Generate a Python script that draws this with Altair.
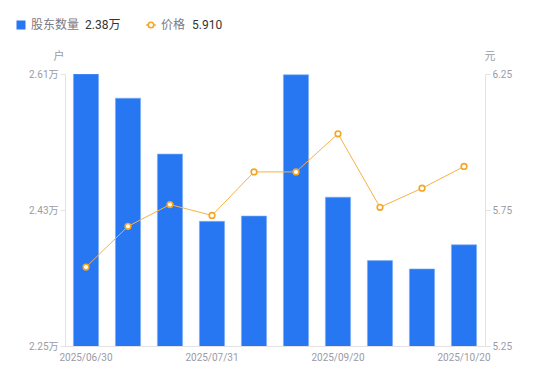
import altair as alt
import pandas as pd

dates = ["2025/06/30", "2025/07/10", "2025/07/20", "2025/07/31", "2025/08/20",
         "2025/08/31", "2025/09/20", "2025/09/30", "2025/10/10", "2025/10/20"]
holders = [2.610, 2.578, 2.504, 2.415, 2.422, 2.609, 2.447, 2.363, 2.352, 2.384]
prices = [5.54, 5.69, 5.77, 5.73, 5.89, 5.89, 6.03, 5.76, 5.83, 5.91]
shown_dates = ["2025/06/30", "2025/07/31", "2025/09/20", "2025/10/20"]

df = pd.DataFrame({"date": dates, "holders": holders, "price": prices})
one = pd.DataFrame({"k": [0]})

FONT = "Roboto, 'Noto Sans CJK SC', sans-serif"
BLUE = "#2777F3"
ORANGE = "#F6B343"
ORANGE_D = "#F5A524"
AXIS_C = "#e3e3e3"
LABEL_C = "#9b9ba6"

x = alt.X("date:N", sort=dates, title=None,
          scale=alt.Scale(paddingInner=0.4, paddingOuter=0.2),
          axis=alt.Axis(values=shown_dates, labelAngle=0, ticks=False, labelPadding=6,
                        domainColor=AXIS_C, labelColor=LABEL_C, labelFontSize=10,
                        labelFont=FONT, grid=False))

bars = alt.Chart(df).mark_bar(color=BLUE, stroke="#7fb0f7", strokeWidth=0.6, clip=True).encode(
    x=x,
    y=alt.Y("holders:Q", title=None,
            scale=alt.Scale(domain=[2.25, 2.61], zero=False, nice=False),
            axis=alt.Axis(values=[2.25, 2.43, 2.61], labelExpr="format(datum.value, '.2f') + '万'",
                          grid=False, domainColor=AXIS_C, tickColor=AXIS_C, tickSize=5,
                          labelColor=LABEL_C, labelFontSize=10, labelFont=FONT, labelPadding=2)),
)

line = alt.Chart(df).mark_line(
    color=ORANGE, strokeWidth=1,
    point=alt.OverlayMarkDef(filled=True, fill="white", stroke=ORANGE_D, strokeWidth=1.6, size=32),
).encode(
    x=x,
    y=alt.Y("price:Q", title=None,
            scale=alt.Scale(domain=[5.25, 6.25], zero=False, nice=False),
            axis=alt.Axis(orient="right", values=[5.25, 5.75, 6.25], format=".2f",
                          grid=False, domainColor=AXIS_C, tickColor=AXIS_C, tickSize=5,
                          labelColor=LABEL_C, labelFontSize=10, labelFont=FONT, labelPadding=2)),
)

def txt(s, xv, yv, color, size=12, align="left"):
    return alt.Chart(one).mark_text(text=s, align=align, baseline="middle", font=FONT,
                                    fontSize=size, color=color).encode(
        x=alt.value(xv), y=alt.value(yv))

leg_sq = alt.Chart(one).mark_square(color=BLUE, size=81, opacity=1).encode(
    x=alt.value(-44), y=alt.value(-49))
leg_ln = alt.Chart(one).mark_rule(color=ORANGE, strokeWidth=1.5).encode(
    x=alt.value(81), x2=alt.value(91), y=alt.value(-49))
leg_pt = alt.Chart(one).mark_point(filled=True, fill="white", stroke=ORANGE_D, strokeWidth=1.6,
                                   size=30, opacity=1).encode(x=alt.value(86), y=alt.value(-49))

chart = alt.layer(
    bars, line,
    leg_sq, txt("股东数量", -34, -49, "#7a7a85"), txt("2.38万", 20, -49, "#333333"),
    leg_ln, leg_pt, txt("价格", 96, -49, "#7a7a85"), txt("5.910", 127, -49, "#333333"),
    txt("户", -6, -17, LABEL_C, size=11, align="center"),
    txt("元", 425, -17, LABEL_C, size=11, align="center"),
).resolve_scale(y="independent").properties(
    width=420, height=272,
    autosize=alt.AutoSizeParams(type="none"),
    padding={"left": 57, "top": 66, "right": 57, "bottom": 19},
).configure_view(stroke=None)

chart.save("out.html", embed_options={"renderer": "svg", "actions": False})
